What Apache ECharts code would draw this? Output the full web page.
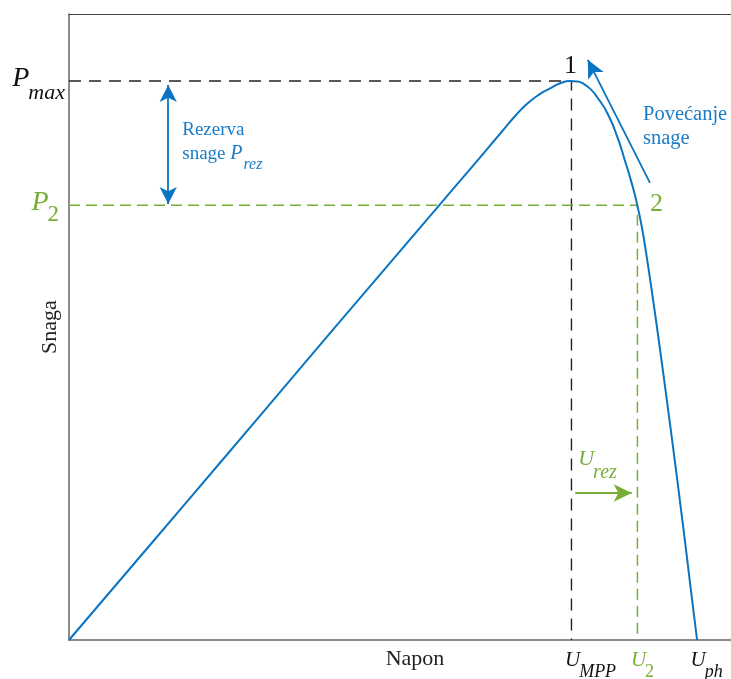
<!DOCTYPE html>
<html><head><meta charset="utf-8">
<script src="https://cdn.jsdelivr.net/npm/echarts@6/dist/echarts.min.js"></script>
<style>html,body{margin:0;padding:0;background:#fff}#c{width:731px;height:679px}</style>
</head><body><div id="c"></div>
<script>
// ---- data (relative units: voltage 0..U_ph = 100, power 0..P_max = 100) ----
const voltage = [0, 12.9, 24.8, 36.8, 48.7, 59.1, 63.9, 69.1, 71.0, 72.9, 75.0, 76.6, 78.2, 79.8, 81.1, 81.8, 83.0, 84.1, 85.7, 87.3, 88.5, 89.6, 90.4, 91.2, 92.0, 93.0, 94.1, 95.2, 96.3, 97.3, 98.2, 98.9, 100];
const power   = [0, 17.0, 32.7, 48.6, 64.3, 78.0, 84.3, 91.2, 93.7, 95.9, 97.7, 98.7, 99.6, 100, 99.9, 99.6, 98.6, 97.1, 94.3, 90.0, 85.8, 81.7, 78.2, 73.9, 68.4, 60.8, 52.0, 42.8, 33.4, 24.6, 16.5, 10.0, 0];
const U_MPP = 80, P_MAX = 100, U_2 = 90.5, P_2 = 77.8;
const xTickValues = [80, 90.5, 100];
const xTickMain = ['U', 'U', 'U'];
const xTickSub = ['MPP', '2', 'ph'];
const yTickValues = [100, 77.8];
const yTickMain = ['P', 'P'];
const yTickSub = ['max', '2'];
const pointNames = ['1', '2'];
const pointCoords = [[80, 100], [90.5, 77.8]];
const reserveArrow = [[15.8, 99.3], [15.8, 78.0]];
const increaseArrow = [[92.5, 81.8], [82.6, 103.8]];
const uRezArrow = [[80.6, 26.3], [89.6, 26.3]];
const reserveText = ['Rezerva', 'snage', 'P', 'rez'];
const increaseText = ['Povećanje', 'snage'];
const uRezText = ['U', 'rez'];

// ---- styles ----
const SERIF = '"Liberation Serif", "DejaVu Serif", serif';
const BLUE = '#0b74c2', BLUE_T = '#1b7cc6', GREEN = '#78ad37', BLACK = '#111';
const xTickColors = [BLACK, GREEN, BLACK];
const yTickColors = [BLACK, GREEN];
const pointColors = [BLACK, GREEN];

const chart = echarts.init(document.getElementById('c'), null, {renderer: 'canvas'});
const xy = (a, b) => a.map((v, i) => [v, b[i]]);

function arrowSeries(pts, color, syms, size, curveness) {
  return {
    type: 'line', data: pts, showSymbol: false, silent: true,
    lineStyle: {opacity: 0}, z: 4,
    markLine: {
      silent: true, symbol: syms, symbolSize: size, animation: false,
      label: {show: false},
      lineStyle: {color: color, width: 1.8, type: 'solid', curveness: curveness || 0},
      emphasis: {disabled: true},
      data: [[{coord: pts[0]}, {coord: pts[1]}]]
    }
  };
}

const X_MAX = 105.4, Y_MAX = 112;
chart.setOption({
  animation: false,
  grid: {left: 69, right: 0, top: 14, bottom: 39},
  xAxis: [{
    type: 'value', min: 0, max: X_MAX, position: 'bottom',
    axisLine: {show: true, lineStyle: {color: '#666', width: 1.5}},
    axisTick: {show: false}, axisLabel: {show: false}, splitLine: {show: false},
    name: 'Napon', nameLocation: 'middle', nameGap: 8,
    nameTextStyle: {fontFamily: SERIF, fontSize: 22, color: '#222', padding: [0, 0, 0, 30]}
  }, {
    type: 'value', min: 0, max: X_MAX, position: 'top',
    axisLine: {show: true, onZero: false, lineStyle: {color: '#444', width: 1.2}},
    axisTick: {show: false}, axisLabel: {show: false}, splitLine: {show: false}
  }],
  yAxis: {
    type: 'value', min: 0, max: Y_MAX,
    axisLine: {show: true, lineStyle: {color: '#666', width: 1.5}},
    axisTick: {show: false}, axisLabel: {show: false}, splitLine: {show: false},
    name: 'Snaga', nameLocation: 'middle', nameGap: 8,
    nameTextStyle: {fontFamily: SERIF, fontSize: 22, color: '#222'}
  },
  series: [
    {type: 'line', data: [[0, P_MAX], [U_MPP, P_MAX], [U_MPP, 0]], showSymbol: false, silent: true,
     lineStyle: {color: '#222', width: 1.4, type: [12, 8]}, z: 2},
    {type: 'line', data: [[0, P_2], [U_2, P_2], [U_2, 0]], showSymbol: false, silent: true,
     lineStyle: {color: GREEN, width: 1.5, type: [11, 6]}, z: 2},
    {type: 'line', data: xy(voltage, power), smooth: 0.55, showSymbol: false, silent: true,
     lineStyle: {color: BLUE, width: 2}, z: 3},
    arrowSeries(reserveArrow, BLUE, ['arrow', 'arrow'], [13, 17]),
    arrowSeries(increaseArrow, BLUE, ['none', 'arrow'], [13, 18], -0.04),
    arrowSeries(uRezArrow, GREEN, ['none', 'arrow'], [13, 18])
  ]
});

// ---- text annotations positioned through the chart's scales ----
const mctx = document.createElement('canvas').getContext('2d');
function fnt(size, italic) { return (italic ? 'italic ' : '') + size + 'px ' + SERIF; }
function tw(t, f) { mctx.font = f; return mctx.measureText(t).width; }
const P = (p) => chart.convertToPixel({gridIndex: 0}, p);
const els = [];
function txt(t, x, y, f, color, align) {
  els.push({type: 'text', x: x, y: y, silent: true, z: 100,
    style: {text: t, font: f, fill: color, textAlign: align || 'left', textVerticalAlign: 'middle'}});
}

// y tick labels (P_max, P_2)
const yRight = [-4, -10];
yTickValues.forEach((v, i) => {
  const p = P([0, v]);
  const fs = fnt(i === 0 ? 22 : 23, i === 0);
  const fm = fnt(28, true);
  const subLeft = p[0] + yRight[i] - tw(yTickSub[i], fs);
  const mainLeft = subLeft - tw(yTickMain[i], fm) + 1;
  txt(yTickMain[i], mainLeft, p[1] - 2.5, fm, yTickColors[i]);
  txt(yTickSub[i], subLeft, p[1] + (i === 0 ? 12.5 : 10), fs, yTickColors[i]);
});

// x tick labels (U_MPP, U_2, U_ph)
xTickValues.forEach((v, i) => {
  const p = P([v, 0]);
  const fm = fnt(21, true), fs = fnt(18, i !== 1);
  const left = p[0] - 6.5;
  txt(xTickMain[i], left, p[1] + 20, fm, xTickColors[i]);
  txt(xTickSub[i], left + tw(xTickMain[i], fm) - 1, p[1] + 32, fs, xTickColors[i]);
});

// operating point numbers
pointNames.forEach((n, i) => {
  const p = P(pointCoords[i]);
  if (i === 0) txt(n, p[0] - 1, p[1] - 15, fnt(26, false), pointColors[i], 'center');
  else txt(n, p[0] + 19, p[1] - 1, fnt(26, false), pointColors[i], 'center');
});

// power reserve text
(function () {
  const a = P(reserveArrow[0]), b = P(reserveArrow[1]);
  const mid = (a[1] + b[1]) / 2, left = a[0] + 14;
  txt(reserveText[0], left, mid - 14.5, fnt(19, false), BLUE_T);
  txt(reserveText[1], left, mid + 9.5, fnt(19, false), BLUE_T);
  const pl = left + tw(reserveText[1] + ' ', fnt(19, false));
  txt(reserveText[2], pl, mid + 9, fnt(20, true), BLUE_T);
  txt(reserveText[3], pl + tw(reserveText[2], fnt(20, true)) + 1, mid + 20.5, fnt(16, true), BLUE_T);
})();

// power increase text
(function () {
  const t = P(increaseArrow[0]);
  txt(increaseText[0], t[0] - 7, t[1] - 68, fnt(20.5, false), BLUE_T);
  txt(increaseText[1], t[0] - 7, t[1] - 44, fnt(20.5, false), BLUE_T);
})();

// U_rez text
(function () {
  const s = P(uRezArrow[0]);
  const fu = fnt(22, true), fr = fnt(20, true);
  txt(uRezText[0], s[0] + 3, s[1] - 33.5, fu, GREEN);
  txt(uRezText[1], s[0] + 3 + tw(uRezText[0], fu) - 1, s[1] - 20, fr, GREEN);
})();

chart.setOption({graphic: {elements: els}});
</script></body></html>
